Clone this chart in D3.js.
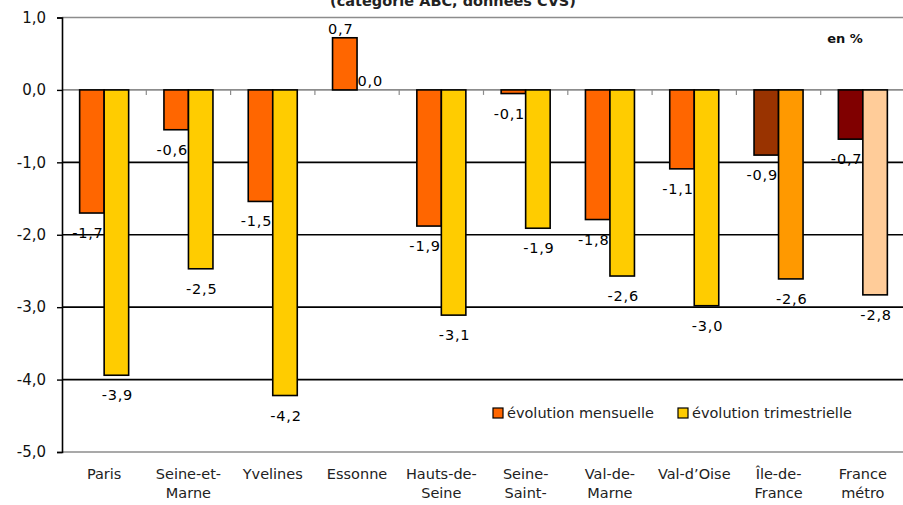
<!DOCTYPE html>
<html>
<head>
<meta charset="utf-8">
<script src="https://cdn.jsdelivr.net/npm/d3@7"></script>
<style>
  body { margin: 0; background: #fff; }
  svg { display: block; font-family: "DejaVu Sans", sans-serif; }
</style>
</head>
<body>
<svg id="chart" width="903" height="505"></svg>
<script>
// data
const categories = ['Paris', 'Seine-et-Marne', 'Yvelines', 'Essonne', 'Hauts-de-Seine',
    'Seine-Saint-Denis', 'Val-de-Marne', 'Val-d’Oise', 'Île-de-France', 'France métro'];
const categoryLabels = ['Paris', 'Seine-et-\nMarne', 'Yvelines', 'Essonne', 'Hauts-de-\nSeine',
    'Seine-\nSaint-\nDenis', 'Val-de-\nMarne', 'Val-d’Oise', 'Île-de-\nFrance', 'France\nmétro'];
const seriesNames = ['évolution mensuelle', 'évolution trimestrielle'];
const mensuelle = [-1.70, -0.55, -1.54, 0.72, -1.88, -0.05, -1.79, -1.09, -0.90, -0.68];
const trimestrielle = [-3.94, -2.47, -4.22, 0.0, -3.11, -1.91, -2.57, -2.98, -2.61, -2.83];
const yTicks = [1, 0, -1, -2, -3, -4, -5];

const CHART_WIDTH = 903;
const CHART_HEIGHT = 505;
const MARGIN = { left: 62, right: -2, top: 17.5, bottom: 53 };

// bar colours (the two aggregate groups get their own shades)
const COLORS = {
    mensuelle: { default: '#ff6600', 'Île-de-France': '#993300', 'France métro': '#800000' },
    trimestrielle: { default: '#ffcc00', 'Île-de-France': '#ff9900', 'France métro': '#ffcc99' }
};
const colorOf = (serie, cat) => COLORS[serie][cat] || COLORS[serie].default;

const locale = d3.formatLocale({ decimal: ',', thousands: ' ', grouping: [3], currency: ['', '€'], minus: '-' });
const fmt = locale.format('.1f');

let svg = d3.select('#chart');

let xScale = d3.scaleBand()
    .domain(categories)
    .range([MARGIN.left, CHART_WIDTH - MARGIN.right])
    .padding(0);
let xInner = d3.scaleBand()
    .domain(['mensuelle', 'trimestrielle'])
    .range([0, xScale.bandwidth()])
    .paddingInner(0)
    .paddingOuter(0.72);
let yScale = d3.scaleLinear()
    .domain([-5, 1])
    .range([CHART_HEIGHT - MARGIN.bottom, MARGIN.top]);

const x0 = MARGIN.left, x1 = CHART_WIDTH - MARGIN.right;

// title, cut off at the top
svg.append('text')
    .attr('x', 453)
    .attr('y', 6)
    .attr('text-anchor', 'middle')
    .attr('font-size', '14.5px')
    .attr('font-weight', 'bold')
    .attr('fill', '#222')
    .text('(catégorie ABC, données CVS)');

// gridlines: black inside, grey for the frame and the zero line
svg.append('g')
    .selectAll('line')
    .data(yTicks)
    .join('line')
    .attr('x1', x0)
    .attr('x2', x1)
    .attr('y1', d => yScale(d))
    .attr('y2', d => yScale(d))
    .attr('stroke', d => (d === 1 || d === 0 || d === -5) ? '#8c8c8c' : '#000')
    .attr('stroke-width', 1.6);

// category ticks hanging from the zero line
svg.append('g')
    .selectAll('line')
    .data(categories.slice(0, -1))
    .join('line')
    .attr('x1', d => xScale(d) + xScale.step())
    .attr('x2', d => xScale(d) + xScale.step())
    .attr('y1', yScale(0))
    .attr('y2', yScale(0) + 5)
    .attr('stroke', '#8c8c8c')
    .attr('stroke-width', 1.2);

// y axis
let yAxis = svg.append('g')
    .attr('transform', `translate(${x0}, 0)`)
    .call(d3.axisLeft(yScale).tickValues(yTicks).tickSize(5).tickPadding(11).tickFormat(fmt));
yAxis.select('.domain').attr('stroke', '#000').attr('stroke-width', 1.6);
yAxis.selectAll('.tick line').attr('stroke', '#000').attr('stroke-width', 1.4);
yAxis.selectAll('.tick text')
    .attr('font-size', '15px')
    .attr('font-family', '"DejaVu Sans", sans-serif')
    .attr('fill', '#111');

function drawBars(serie, values) {
    svg.append('g')
        .selectAll('rect')
        .data(values)
        .join('rect')
        .attr('x', (d, i) => xScale(categories[i]) + xInner(serie))
        .attr('width', xInner.bandwidth())
        .attr('y', d => yScale(Math.max(d, 0)))
        .attr('height', d => Math.abs(yScale(d) - yScale(0)))
        .attr('fill', (d, i) => colorOf(serie, categories[i]))
        .attr('stroke', '#000')
        .attr('stroke-width', 1.6);
}

function drawLabels(serie, values, shift) {
    svg.append('g')
        .selectAll('text')
        .data(values)
        .join('text')
        .attr('x', (d, i) => xScale(categories[i]) + xInner(serie) + xInner.bandwidth() / 2 + shift)
        .attr('y', d => d >= 0 ? yScale(d) - 4 : yScale(d) + 25)
        .attr('text-anchor', 'middle')
        .attr('font-size', '14.5px')
        .attr('letter-spacing', '0.8px')
        .attr('fill', '#000')
        .text(d => fmt(d));
}

// monthly labels sit under the quarterly bars, as in the original
drawBars('mensuelle', mensuelle);
drawLabels('mensuelle', mensuelle, -4);
drawBars('trimestrielle', trimestrielle);
drawLabels('trimestrielle', trimestrielle, 1);

// unit
svg.append('text')
    .attr('x', 845)
    .attr('y', 43)
    .attr('text-anchor', 'middle')
    .attr('font-size', '13px')
    .attr('font-weight', 'bold')
    .attr('fill', '#111')
    .text('en %');

// category labels, on several lines
svg.append('g')
    .selectAll('text')
    .data(categoryLabels)
    .join('text')
    .attr('x', (d, i) => xScale(categories[i]) + xScale.bandwidth() / 2)
    .attr('y', 479)
    .attr('text-anchor', 'middle')
    .attr('font-size', '14.5px')
    .attr('fill', '#222')
    .each(function(d) {
        d3.select(this).selectAll('tspan')
            .data(d.split('\n'))
            .join('tspan')
            .attr('x', d3.select(this).attr('x'))
            .attr('dy', (t, j) => j === 0 ? 0 : 18.5)
            .text(t => t);
    });

// legend
const legendX = [493, 678];
let legend = svg.append('g')
    .selectAll('g')
    .data(seriesNames)
    .join('g')
    .attr('transform', (d, i) => `translate(${legendX[i]}, 408)`);
legend.append('rect')
    .attr('width', 10)
    .attr('height', 10)
    .attr('fill', (d, i) => colorOf(i === 0 ? 'mensuelle' : 'trimestrielle', 'Paris'))
    .attr('stroke', '#000')
    .attr('stroke-width', 1.2);
legend.append('text')
    .attr('x', 14)
    .attr('y', 9.5)
    .attr('font-size', '14.5px')
    .attr('fill', '#222')
    .text(d => d);
</script>
</body>
</html>
